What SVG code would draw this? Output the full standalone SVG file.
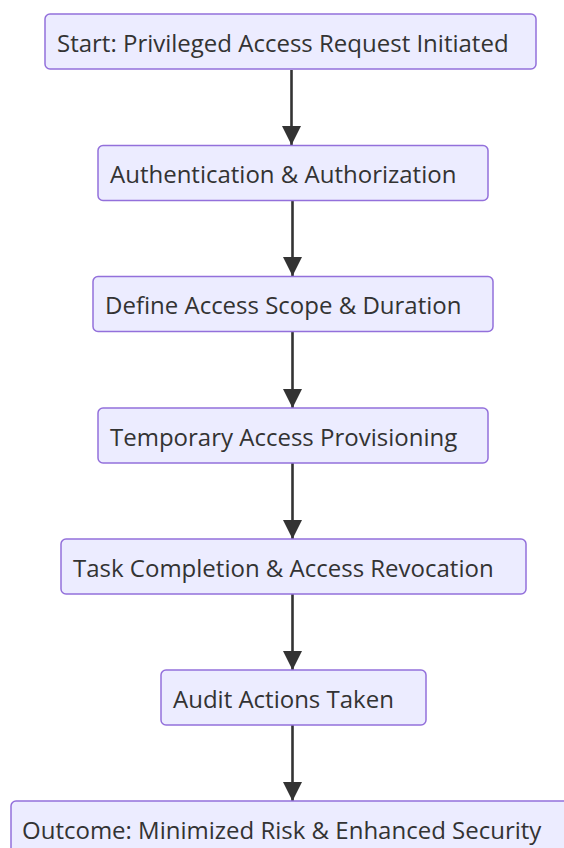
<svg xmlns="http://www.w3.org/2000/svg" width="564" height="848" viewBox="0 0 564 848">
<style>
.node rect{fill:#ECECFF;stroke:#9370DB;stroke-width:1.5}
.node text{font-family:"Open Sans","Noto Sans",sans-serif;font-size:24px;fill:#333}
.edge{stroke:#333;stroke-width:2.6;fill:none;marker-end:url(#arr)}
</style>
<defs>
<marker id="arr" markerUnits="userSpaceOnUse" markerWidth="19" markerHeight="19" viewBox="0 0 19 19" refX="19" refY="9.5" orient="auto">
<path d="M0,0 L19,9.5 L0,19 z" fill="#333"/>
</marker>
</defs>
<rect width="564" height="848" fill="#fff"/>
<g id="connectors">
<line class="edge" x1="291.5" y1="70" x2="291.5" y2="145"/>
<line class="edge" x1="292.5" y1="201" x2="292.5" y2="276"/>
<line class="edge" x1="292.5" y1="332" x2="292.5" y2="408"/>
<line class="edge" x1="292.5" y1="463" x2="292.5" y2="539"/>
<line class="edge" x1="292.5" y1="594" x2="292.5" y2="670"/>
<line class="edge" x1="292.5" y1="725" x2="292.5" y2="801"/>
</g>
<g id="n1" class="node"><rect x="45" y="14" width="491" height="55" rx="5"/><text x="57" y="52">Start: Privileged Access Request Initiated</text></g>
<g id="n2" class="node"><rect x="98" y="145.5" width="390" height="55" rx="5"/><text x="110" y="183">Authentication &amp; Authorization</text></g>
<g id="n3" class="node"><rect x="93" y="276.5" width="400" height="55" rx="5"/><text x="105" y="314">Define Access Scope &amp; Duration</text></g>
<g id="n4" class="node"><rect x="98" y="408" width="390" height="55" rx="5"/><text x="110" y="446">Temporary Access Provisioning</text></g>
<g id="n5" class="node"><rect x="61" y="539" width="465" height="55" rx="5"/><text x="73" y="577">Task Completion &amp; Access Revocation</text></g>
<g id="n6" class="node"><rect x="161" y="670" width="265" height="55" rx="5"/><text x="173" y="708">Audit Actions Taken</text></g>
<g id="n7" class="node"><rect x="11" y="801" width="564" height="55" rx="5"/><text x="22" y="839">Outcome: Minimized Risk &amp; Enhanced Security</text></g>
</svg>
